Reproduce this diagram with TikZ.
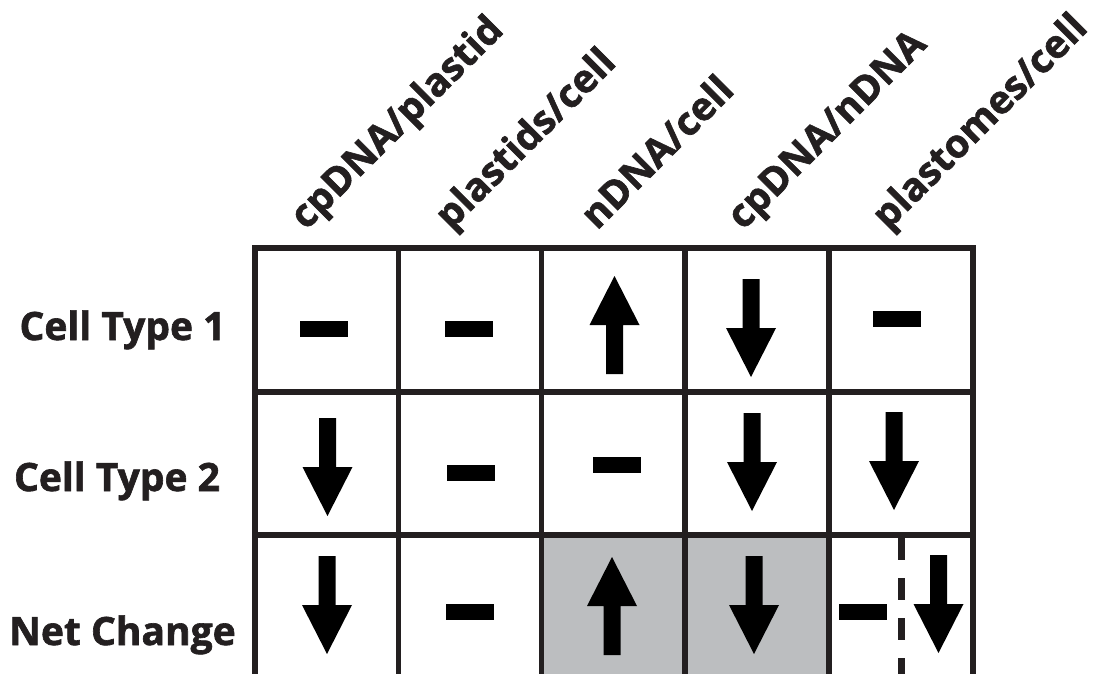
\documentclass[tikz,border=0pt]{standalone}
\usepackage{fontspec}
\setmainfont{Open Sans}[BoldFont={Open Sans Bold},BoldFeatures={FakeBold=1.6}]
\usetikzlibrary{positioning}
\definecolor{ink}{HTML}{231F20}
\definecolor{cellgray}{HTML}{BCBEC0}

\begin{document}
\begin{tikzpicture}[x=1pt,y=-1pt,% image-like coordinates, y grows downwards
    every node/.style={
        font=\fontsize{39}{46}\selectfont\bfseries,
        text=ink,
        inner sep=0pt
    },
    gridline/.style={draw=ink,line width=5.5pt},
    header/.style={rotate=45,anchor=base west},
    rowlabel/.style={anchor=base},
    minus/.pic={\fill (-24,-8) rectangle (24,8);},
    down/.pic={\fill (-8.5,0) -- (8.5,0) -- (8.5,49) -- (25,49) -- (0,98) -- (-25,49) -- (-8.5,49) -- cycle;},
    up/.pic={\fill (-8.5,98) -- (8.5,98) -- (8.5,49) -- (25,49) -- (0,0) -- (-25,49) -- (-8.5,49) -- cycle;}
]
\path[use as bounding box] (0,0) rectangle (1096,674);
\clip (0,0) rectangle (1096,674);

% shaded cells of the last row
\fill[cellgray] (541.5,535) rectangle (829,690);

% grid
\draw[gridline] (255,690) -- (255,248) -- (973,248) -- (973,690);
\foreach \x in {398.5,541.5,685,829}
    \draw[gridline] (\x,248) -- (\x,690);
\foreach \y in {392,535}
    \draw[gridline] (255,\y) -- (973,\y);
\draw[ink,line width=7pt,dash pattern=on 22pt off 18pt] (901,538) -- (901,690);

% column headers
\node[header] (hd1) at (306,231) {cpDNA/plastid};
\node[header] (hd2) at (451,231) {plastids/cell};
\node[header] (hd3) at (597,231) {nDNA/cell};
\node[header] (hd4) at (743,231) {cpDNA/nDNA};
\node[header] (hd5) at (888,231) {plastomes/cell};

% row labels
\node[rowlabel] (lbl1) at (122.5,340) {Cell Type 1};
\node[rowlabel] (lbl2) at (117,491) {Cell Type 2};
\node[rowlabel] (lbl3) at (122.5,645) {Net Change};

% row 1
\pic at (324,329) {minus};
\pic at (468.5,329) {minus};
\pic at (614.5,276) {up};
\pic at (751,279) {down};
\pic at (896.5,319) {minus};
% row 2
\pic at (327.5,418) {down};
\pic at (471,473) {minus};
\pic at (617,465) {minus};
\pic at (752,413) {down};
\pic at (894,412) {down};
% row 3
\pic at (327,556) {down};
\pic at (470,612) {minus};
\pic at (612,557) {up};
\pic at (754,556) {down};
\pic at (863,612) {minus};
\pic at (938.5,555) {down};
\end{tikzpicture}
\end{document}
